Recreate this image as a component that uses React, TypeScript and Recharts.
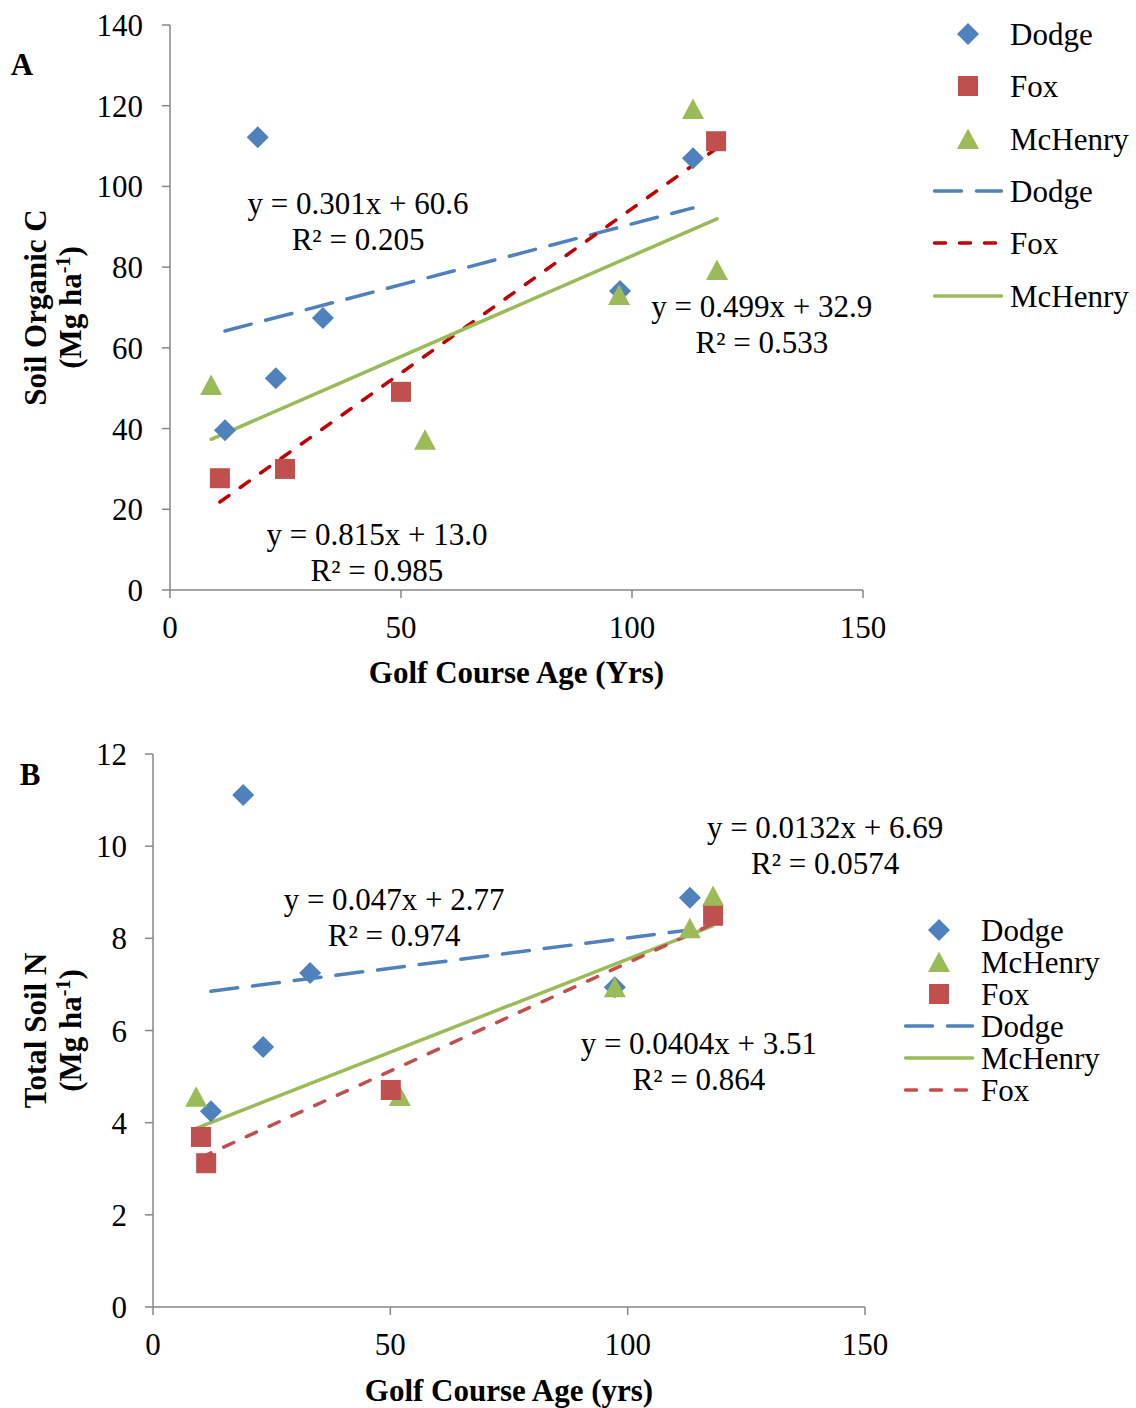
import React from "react"
import { ScatterChart, Scatter, XAxis, YAxis, ReferenceLine, ReferenceDot, Legend } from "recharts"

const BLUE = "#4F81BD"
const RED = "#C0504D"
const DEEP_RED = "#C00000"
const GREEN = "#9BBB59"
const AXIS = "#878787"
const FONT = '"Liberation Serif", "Times New Roman", serif'
const FS = 31

// golf course age (yrs) on x, both panels
const ageTicks = [0, 50, 100, 150]

// Panel A: soil organic C (Mg ha-1)
const dodgeAgeA = [19.0, 11.9, 22.9, 33.1, 97.4, 113.2]
const dodgeSocA = [112.2, 39.6, 52.5, 67.4, 74.1, 107.0]
const foxAgeA = [10.8, 24.9, 50.0, 118.2]
const foxSocA = [27.7, 30.0, 49.1, 111.2]
const mchenryAgeA = [8.9, 55.2, 97.2, 113.2, 118.4]
const mchenrySocA = [50.8, 37.2, 73.1, 119.2, 79.3]
const socTicks = [0, 20, 40, 60, 80, 100, 120, 140]

// Panel A fits, order Dodge, Fox, McHenry
const slopeA = [0.301, 0.815, 0.499]
const interceptA = [60.6, 13.0, 32.9]
const eqA = ["y = 0.301x + 60.6", "y = 0.815x + 13.0", "y = 0.499x + 32.9"]
const r2A = ["R² = 0.205", "R² = 0.985", "R² = 0.533"]

// Panel B: total soil N (Mg ha-1)
const dodgeAgeB = [19.0, 12.2, 23.2, 33.1, 97.3, 113.1]
const dodgeTnB = [11.11, 4.25, 5.64, 7.25, 6.94, 8.88]
const foxAgeB = [10.1, 11.2, 50.1, 118.0]
const foxTnB = [3.69, 3.12, 4.71, 8.49]
const mchenryAgeB = [9.1, 52.0, 97.3, 113.1, 118.0]
const mchenryTnB = [4.56, 4.58, 6.94, 8.22, 8.92]
const tnTicks = [0, 2, 4, 6, 8, 10, 12]

// Panel B fits, order Dodge, Fox, McHenry
const slopeB = [0.0132, 0.047, 0.0404]
const interceptB = [6.69, 2.77, 3.51]
const eqB = ["y = 0.0132x + 6.69", "y = 0.047x + 2.77", "y = 0.0404x + 3.51"]
const r2B = ["R² = 0.0574", "R² = 0.974", "R² = 0.864"]

type Kind = "diamond" | "square" | "triangle"

interface Series {
  name: string
  color: string
  kind: Kind
  ages: number[]
  vals: number[]
}

interface Trend {
  name: string
  color: string
  dash?: string
  slope: number
  intercept: number
  ages: number[]
  eq: string
  r2: string
  at: [number, number] // where the equation text sits, in data units
}

function marker(kind: Kind, cx: number, cy: number, fill: string) {
  if (kind === "diamond")
    return <path d={`M${cx},${cy - 11}L${cx + 11},${cy}L${cx},${cy + 11}L${cx - 11},${cy}Z`} fill={fill} />
  if (kind === "square")
    return <rect x={cx - 10} y={cy - 10} width={20} height={20} fill={fill} />
  return <path d={`M${cx},${cy - 10.5}L${cx + 11},${cy + 10}L${cx - 11},${cy + 10}Z`} fill={fill} />
}

const toPoints = (xs: number[], ys: number[]) => xs.map((x, i) => ({ x, y: ys[i] }))

interface PanelProps {
  height: number
  margin: { top: number; right: number; bottom: number; left: number }
  yAxisWidth: number
  xAxisHeight: number
  yDomain: [number, number]
  yTicks: number[]
  yTickMargin: number
  letter: string
  letterPos: [number, number]
  yTitle: string
  xTitle: string
  xTitleY: number
  series: Series[]
  trends: Trend[]
  legendLeft: number
  legendTop: number
  legendSymX: number
  legendLine: [number, number]
  legendTextX: number
  legendRows: number[]
  legendOrder: string[]
}

function Panel(p: PanelProps) {
  const plotLeft = p.margin.left + p.yAxisWidth
  const plotRight = 1136 - p.margin.right
  const plotTop = p.margin.top
  const plotBottom = p.height - p.margin.bottom - p.xAxisHeight
  const text = { fontFamily: FONT, fontSize: FS, fill: "#000" }

  const yTitle = () => {
    const cy = (plotTop + plotBottom) / 2
    return (
      <g>
        <text x={p.letterPos[0]} y={p.letterPos[1]} textAnchor="middle" fontWeight="bold" {...text}>
          {p.letter}
        </text>
        <text transform={`translate(46, ${cy}) rotate(-90)`} textAnchor="middle" fontWeight="bold" {...text}>
          <tspan x={0} y={0}>{p.yTitle}</tspan>
          <tspan x={0} y={35}>
            (Mg ha
            <tspan dy={-11} fontSize={20}>-1</tspan>
            <tspan dy={11}>)</tspan>
          </tspan>
        </text>
      </g>
    )
  }

  const xTitle = () => (
    <text x={(plotLeft + plotRight) / 2} y={p.xTitleY} textAnchor="middle" fontWeight="bold" {...text}>
      {p.xTitle}
    </text>
  )

  const legendBox = () => {
    const rows = p.legendRows
    const items: React.ReactNode[] = []
    p.legendOrder.forEach((name, i) => {
      const s = p.series.find(q => q.name === name)!
      items.push(
        <g key={"m" + name}>
          {marker(s.kind, p.legendSymX, rows[i], s.color)}
          <text x={p.legendTextX} y={rows[i] + 11} {...text}>{name}</text>
        </g>
      )
    })
    p.legendOrder.forEach((name, i) => {
      const t = p.trends.find(q => q.name === name)!
      const y = rows[i + p.legendOrder.length]
      items.push(
        <g key={"l" + name}>
          <line x1={p.legendLine[0] + 1.5} x2={p.legendLine[1] - 1.5} y1={y} y2={y} stroke={t.color} strokeWidth={3.5}
            strokeLinecap="round" strokeDasharray={t.dash} />
          <text x={p.legendTextX} y={y + 11} {...text}>{name}</text>
        </g>
      )
    })
    return <svg width={230} height={340} style={{ overflow: "visible" }}>{items}</svg>
  }

  return (
    <ScatterChart width={1136} height={p.height} margin={p.margin}>
      <XAxis type="number" dataKey="x" domain={[0, 150]} ticks={ageTicks} interval={0}
        height={p.xAxisHeight} tickSize={8} tickMargin={18}
        axisLine={{ stroke: AXIS, strokeWidth: 1.5 }} tickLine={{ stroke: AXIS, strokeWidth: 1.5 }}
        tick={{ fill: "#000", fontSize: FS, fontFamily: FONT }} label={xTitle} />
      <YAxis type="number" dataKey="y" domain={p.yDomain} ticks={p.yTicks} interval={0}
        width={p.yAxisWidth} tickSize={8} tickMargin={p.yTickMargin}
        axisLine={{ stroke: AXIS, strokeWidth: 1.5 }} tickLine={{ stroke: AXIS, strokeWidth: 1.5 }}
        tick={{ fill: "#000", fontSize: FS, fontFamily: FONT }} label={yTitle} />
      {p.series.map(s => (
        <Scatter key={s.name} name={s.name} data={toPoints(s.ages, s.vals)} isAnimationActive={false}
          shape={(props: any) => marker(s.kind, props.cx, props.cy, s.color)} />
      ))}
      {p.trends.map(t => {
        const x0 = Math.min(...t.ages)
        const x1 = Math.max(...t.ages)
        return (
          <ReferenceLine key={"t" + t.name} segment={[{ x: x0, y: t.slope * x0 + t.intercept }, { x: x1, y: t.slope * x1 + t.intercept }]}
            stroke={t.color} strokeWidth={3.5} strokeDasharray={t.dash} strokeLinecap="round" />
        )
      })}
      {p.trends.map(t => (
        <ReferenceDot key={"e" + t.name} x={t.at[0]} y={t.at[1]} r={0} fill="none" stroke="none"
          label={(lp: any) => {
            const vb = lp.viewBox || { x: 0, y: 0 }
            return (
              <text textAnchor="middle" {...text}>
                <tspan x={vb.x} y={vb.y}>{t.eq}</tspan>
                <tspan x={vb.x} y={vb.y + 36}>{t.r2}</tspan>
              </text>
            )
          }} />
      ))}
      <Legend layout="vertical" align="center" verticalAlign="middle" content={legendBox}
        wrapperStyle={{ left: p.legendLeft, top: p.legendTop, width: 230, height: 340 }} />
    </ScatterChart>
  )
}

const seriesA: Series[] = [
  { name: "Dodge", color: BLUE, kind: "diamond", ages: dodgeAgeA, vals: dodgeSocA },
  { name: "Fox", color: RED, kind: "square", ages: foxAgeA, vals: foxSocA },
  { name: "McHenry", color: GREEN, kind: "triangle", ages: mchenryAgeA, vals: mchenrySocA },
]

const trendsA: Trend[] = [
  { name: "Dodge", color: BLUE, dash: "27 15", slope: slopeA[0], intercept: interceptA[0], ages: dodgeAgeA, eq: eqA[0], r2: r2A[0], at: [40.7, 93.2] },
  { name: "Fox", color: DEEP_RED, dash: "11 14", slope: slopeA[1], intercept: interceptA[1], ages: foxAgeA, eq: eqA[1], r2: r2A[1], at: [44.8, 11.1] },
  { name: "McHenry", color: GREEN, slope: slopeA[2], intercept: interceptA[2], ages: mchenryAgeA, eq: eqA[2], r2: r2A[2], at: [128.1, 67.6] },
]

const seriesB: Series[] = [
  { name: "Dodge", color: BLUE, kind: "diamond", ages: dodgeAgeB, vals: dodgeTnB },
  { name: "McHenry", color: GREEN, kind: "triangle", ages: mchenryAgeB, vals: mchenryTnB },
  { name: "Fox", color: RED, kind: "square", ages: foxAgeB, vals: foxTnB },
]

const trendsB: Trend[] = [
  { name: "Dodge", color: BLUE, dash: "27 15", slope: slopeB[0], intercept: interceptB[0], ages: dodgeAgeB, eq: eqB[0], r2: r2B[0], at: [141.6, 10.18] },
  { name: "McHenry", color: GREEN, slope: slopeB[2], intercept: interceptB[2], ages: mchenryAgeB, eq: eqB[2], r2: r2B[2], at: [115.0, 5.49] },
  { name: "Fox", color: RED, dash: "11 14", slope: slopeB[1], intercept: interceptB[1], ages: foxAgeB, eq: eqB[1], r2: r2B[1], at: [50.8, 8.62] },
]

export default function App() {
  return (
    <div style={{ position: "relative", width: 1136, height: 1408, background: "#fff" }}>
      <style>{"body{margin:0}"}</style>
      <div style={{ position: "absolute", left: 0, top: 0 }}>
        <Panel height={700} margin={{ top: 25, right: 273, bottom: 10, left: 0 }} yAxisWidth={170} xAxisHeight={100}
          yDomain={[0, 140]} yTicks={socTicks} yTickMargin={19} letter="A" letterPos={[22, 75]}
          yTitle="Soil Organic C" xTitle="Golf Course Age (Yrs)" xTitleY={683}
          series={seriesA} trends={trendsA}
          legendLeft={920} legendTop={0} legendSymX={48} legendLine={[13, 83]} legendTextX={90}
          legendRows={[34, 86, 139, 191, 243, 296]} legendOrder={["Dodge", "Fox", "McHenry"]} />
      </div>
      <div style={{ position: "absolute", left: 0, top: 700 }}>
        <Panel height={708} margin={{ top: 54, right: 271, bottom: 6, left: 0 }} yAxisWidth={153} xAxisHeight={95}
          yDomain={[0, 12]} yTicks={tnTicks} yTickMargin={18} letter="B" letterPos={[30, 85]}
          yTitle="Total Soil N" xTitle="Golf Course Age (yrs)" xTitleY={701}
          series={seriesB} trends={trendsB}
          legendLeft={880} legendTop={0} legendSymX={59} legendLine={[24, 94]} legendTextX={101}
          legendRows={[230, 262, 294, 326, 358, 390]} legendOrder={["Dodge", "McHenry", "Fox"]} />
      </div>
    </div>
  )
}
